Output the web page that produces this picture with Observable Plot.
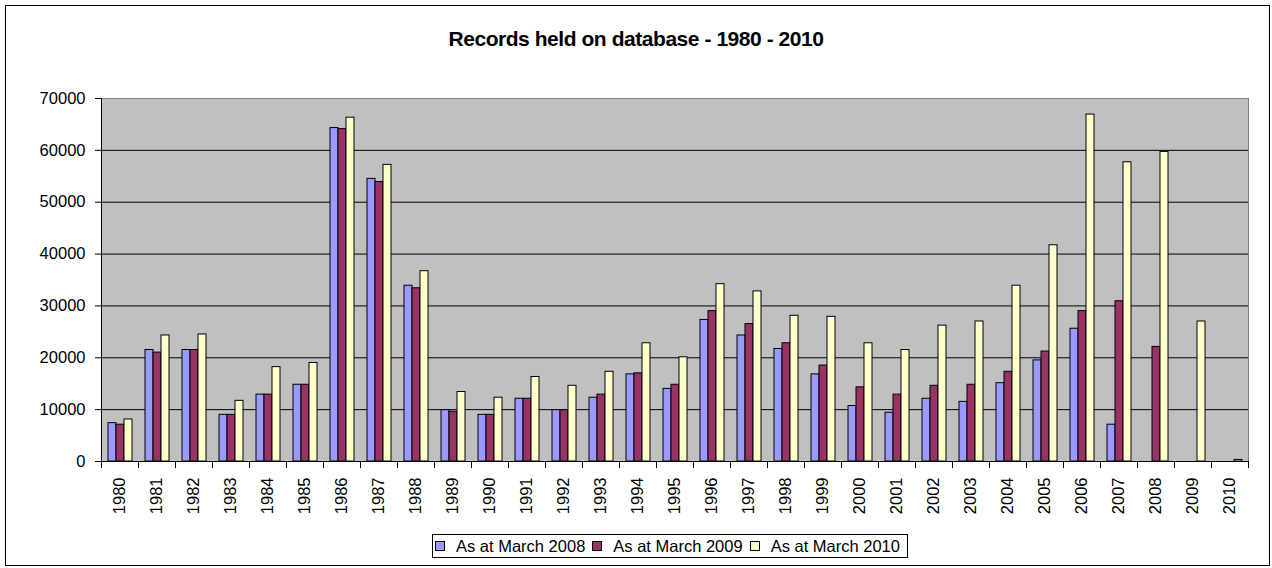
<!DOCTYPE html>
<html>
<head>
<meta charset="utf-8">
<script src="https://cdn.jsdelivr.net/npm/d3@7"></script>
<script src="https://cdn.jsdelivr.net/npm/@observablehq/plot@0.6"></script>
<style>
  body { margin: 0; background: #fff; font-family: "Liberation Sans", Arial, sans-serif; }
  #chart { position: relative; width: 1272px; height: 568px; overflow: hidden; background: #fff; }
  #border { position: absolute; left: 5px; top: 5px; width: 1265px; height: 561px; border: 1px solid #000; box-sizing: border-box; pointer-events: none; }
  #title { position: absolute; left: 0; top: 27px; width: 1272px; text-align: center; font-weight: bold; font-size: 21px; letter-spacing: -0.45px; color: #000; }
  #plot { position: absolute; left: 0; top: 0; }
  #legend { position: absolute; left: 432px; top: 534px; width: 476px; height: 24px; border: 1px solid #000; box-sizing: border-box; display: flex; align-items: center; padding-left: 2px; font-size: 16.5px; color: #000; background: #fff; }
  .item { display: flex; align-items: center; margin-right: 7px; white-space: nowrap; }
  .sw { display: inline-block; width: 10px; height: 10px; border: 1px solid #000; box-sizing: border-box; margin-right: 11px; }
</style>
</head>
<body>
<div id="chart">
  <div id="title">Records held on database - 1980 - 2010</div>
  <div id="plot"></div>
  <div id="legend"></div>
  <div id="border"></div>
</div>
<script>
const years = ["1980","1981","1982","1983","1984","1985","1986","1987","1988","1989",
               "1990","1991","1992","1993","1994","1995","1996","1997","1998","1999",
               "2000","2001","2002","2003","2004","2005","2006","2007","2008","2009","2010"];
const seriesNames = ["As at March 2008", "As at March 2009", "As at March 2010"];
const march2008 = [7400, 21500, 21500, 9000, 12900, 14800, 64300, 54500, 33900, 9900,
                   9000, 12100, 9900, 12300, 16800, 14000, 27300, 24300, 21700, 16800,
                   10700, 9400, 12100, 11500, 15100, 19500, 25600, 7100, null, null, null];
const march2009 = [7100, 21000, 21500, 9000, 12900, 14800, 64100, 53900, 33400, 9600,
                   9000, 12100, 9900, 12900, 17000, 14800, 29000, 26500, 22800, 18500,
                   14300, 12900, 14600, 14800, 17300, 21200, 29000, 30900, 22100, null, null];
const march2010 = [8100, 24300, 24500, 11700, 18200, 19000, 66300, 57200, 36700, 13400,
                   12300, 16300, 14600, 17300, 22800, 20100, 34200, 32800, 28100, 27900,
                   22800, 21500, 26200, 27000, 33900, 41700, 66900, 57700, 59700, 27000, 300];
const seriesColors = ["#9999FF", "#993366", "#FFFFCC"];
const yTicks = [0, 10000, 20000, 30000, 40000, 50000, 60000, 70000];

const seriesValues = [march2008, march2009, march2010];
const rows = years.flatMap((year, i) =>
  seriesValues.map((vals, s) => ({year, series: seriesNames[s], value: vals[i]}))
).filter(d => d.value != null);

const plotHeight = 520, mTop = 98, mBottom = 59;
const innerH = plotHeight - mTop - mBottom;

const chart = Plot.plot({
  width: 1272,
  height: plotHeight,
  marginTop: mTop,
  marginBottom: mBottom,
  marginLeft: 87,
  marginRight: 11,
  style: {fontFamily: "'Liberation Sans', Arial, sans-serif", fontSize: "16.5px", background: "transparent", color: "#000", overflow: "visible"},
  fx: {domain: years, padding: 0, label: null},
  x: {domain: seriesNames, paddingInner: 0, paddingOuter: 0.75, axis: null},
  y: {domain: [0, 70000], label: null},
  color: {domain: seriesNames, range: seriesColors},
  marks: [
    Plot.frame({fill: "#C0C0C0", stroke: null, shapeRendering: "crispEdges"}),
    Plot.gridY(yTicks.slice(1, -1), {stroke: "#000", strokeOpacity: 1}),
    Plot.frame({anchor: "top", stroke: "#808080"}),
    Plot.frame({anchor: "right", stroke: "#808080", facetAnchor: "right"}),
    Plot.barY(rows, {fx: "year", x: "series", y: "value", fill: "series", stroke: "#000", strokeWidth: 1}),
    Plot.ruleY([0], {stroke: "#000"}),
    Plot.frame({anchor: "left", stroke: "#000", facetAnchor: "left"}),
    Plot.frame({anchor: "left", stroke: "#000", insetTop: innerH, insetBottom: -6}),
    Plot.frame({anchor: "right", stroke: "#000", insetTop: innerH, insetBottom: -6, facetAnchor: "right"}),
    Plot.axisY(yTicks, {tickSize: 6, tickPadding: 10, tickFormat: d3.format("d"), label: null}),
    Plot.axisFx({anchor: "bottom", tickSize: 0, tickPadding: 16, tickRotate: -90, label: null})
  ]
});
document.getElementById("plot").appendChild(chart);

const legend = document.getElementById("legend");
seriesNames.forEach((name, i) => {
  const item = document.createElement("div");
  item.className = "item";
  const sw = document.createElement("span");
  sw.className = "sw";
  sw.style.background = seriesColors[i];
  const label = document.createElement("span");
  label.textContent = name;
  item.appendChild(sw);
  item.appendChild(label);
  legend.appendChild(item);
});
</script>
</body>
</html>
